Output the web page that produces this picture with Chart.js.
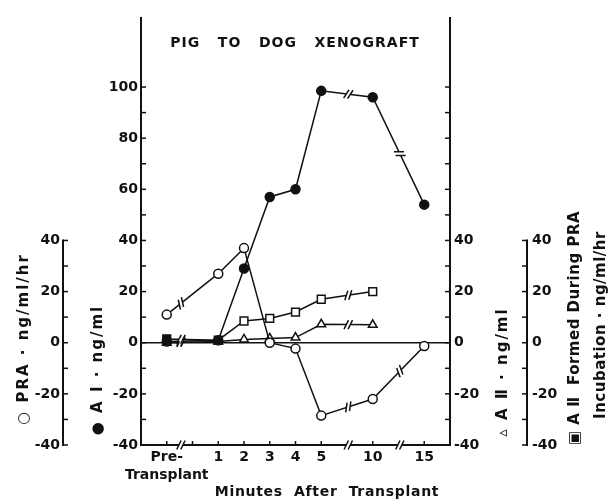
<!DOCTYPE html>
<html>
<head>
<meta charset="utf-8">
<script src="https://cdn.jsdelivr.net/npm/chart.js@4.4.1/dist/chart.umd.min.js"></script>
<style>
  html, body { margin: 0; padding: 0; background: #fff; }
  #wrap { width: 611px; height: 500px; }
</style>
</head>
<body>
<div id="wrap"><canvas id="chart" width="611" height="500"></canvas></div>
<script>
// minutes after transplant; the blank slots are the broken stretches of the axis
const categories = ['', ['Pre-', 'Transplant'], '', '1', '2', '3', '4', '5', '', '10', '', '15', ''];

const praValues      = [null, 11, null, 27, 37, 0, -2.3, -28.5, null, -22, null, -1.3, null];
const a1Values       = [null, 0.5, null, 1, 29, 57, 60, 98.5, null, 96, null, 54, null];
const a2Values       = [null, 0, null, 0.5, 1.3, 1.7, 2, 7.2, null, 7, null, null, null];
const a2FormedValues = [null, 1.5, null, 1, 8.5, 9.5, 12, 17, null, 20, null, null, null];

const mainTickLabels = [-40, -20, 0, 20, 40, 60, 80, 100];
const sideTickLabels = [-40, -20, 0, 20, 40];

const INK = '#111';
const tickFont = { family: 'DejaVu Sans', size: 14, weight: 'bold' };

function fixWidth(w) {
    return function (scale) { scale.width = w; };
}

function yScale(position, weight, width, labels, padding) {
    return {
        type: 'linear',
        position: position,
        weight: weight,
        min: -40,
        max: 127,
        afterFit: fixWidth(width),
        grid: { display: false, drawTicks: false },
        border: { display: false },
        ticks: {
            stepSize: 10,
            autoSkip: false,
            padding: padding,
            color: INK,
            font: tickFont,
            callback: v => labels.includes(v) ? String(v) : ''
        }
    };
}

// axis lines and inner tick marks, drawn from the scales
const axisSpecs = [
    { id: 'yPRA', side: 'right', dir: 1, from: -40, to: 40 },
    { id: 'y', side: 'right', dir: 1, from: -40, to: 100, full: true },
    { id: 'yA2', side: 'left', dir: -1, from: -40, to: 100, full: true },
    { id: 'yForm', side: 'left', dir: -1, from: -40, to: 40 }
];
const axisBreaks = [1.55, 8.05, 10.05];

function drawBreak(ctx, x, y, angle) {
    const ux = Math.cos(angle), uy = Math.sin(angle);
    const tilt = angle - Math.PI / 2 + 0.45;
    const mx = Math.cos(tilt) * 5, my = Math.sin(tilt) * 5;
    ctx.save();
    ctx.strokeStyle = '#fff';
    ctx.lineWidth = 4;
    ctx.beginPath();
    ctx.moveTo(x - ux * 2, y - uy * 2);
    ctx.lineTo(x + ux * 2, y + uy * 2);
    ctx.stroke();
    ctx.strokeStyle = INK;
    ctx.lineWidth = 1.5;
    [-2, 2].forEach(s => {
        const cx = x + ux * s, cy = y + uy * s;
        ctx.beginPath();
        ctx.moveTo(cx - mx, cy - my);
        ctx.lineTo(cx + mx, cy + my);
        ctx.stroke();
    });
    ctx.restore();
}

const paperAxes = {
    id: 'paperAxes',
    beforeDatasetsDraw(chart) {
        const ctx = chart.ctx;
        const area = chart.chartArea;
        ctx.save();
        ctx.strokeStyle = INK;
        ctx.lineCap = 'butt';
        axisSpecs.forEach(spec => {
            const s = chart.scales[spec.id];
            const x = spec.side === 'right' ? s.right : s.left;
            const top = spec.full ? area.top : s.getPixelForValue(spec.to);
            const bottom = s.getPixelForValue(spec.from);
            ctx.lineWidth = 2;
            ctx.beginPath();
            ctx.moveTo(x, top - 1);
            ctx.lineTo(x, bottom + 1);
            ctx.stroke();
            ctx.lineWidth = 1.5;
            for (let v = spec.from; v <= spec.to; v += 10) {
                const y = s.getPixelForValue(v);
                ctx.beginPath();
                ctx.moveTo(x, y);
                ctx.lineTo(x + spec.dir * 5, y);
                ctx.stroke();
            }
        });
        // x axis
        const xs = chart.scales.x;
        ctx.lineWidth = 2;
        ctx.beginPath();
        ctx.moveTo(area.left, area.bottom);
        ctx.lineTo(area.right, area.bottom);
        ctx.stroke();
        ctx.lineWidth = 1.5;
        categories.forEach((c, i) => {
            if (c === '' && i !== 2) return;
            const x = xs.getPixelForValue(i);
            ctx.beginPath();
            ctx.moveTo(x, area.bottom);
            ctx.lineTo(x, area.bottom - 4);
            ctx.stroke();
        });
        // zero line
        const y0 = chart.scales.y.getPixelForValue(0);
        ctx.lineWidth = 1.5;
        ctx.beginPath();
        ctx.moveTo(area.left, y0);
        ctx.lineTo(area.right, y0);
        ctx.stroke();
        ctx.restore();
        axisBreaks.forEach(b => drawBreak(ctx, xs.getPixelForValue(b), area.bottom, 0));
    },
    afterDatasetsDraw(chart) {
        const ctx = chart.ctx;
        const xs = chart.scales.x;
        chart.data.datasets.forEach(ds => {
            const ys = chart.scales[ds.yAxisID];
            const idx = ds.data.map((v, i) => v === null ? -1 : i).filter(i => i >= 0);
            for (let k = 1; k < idx.length; k++) {
                const i = idx[k - 1], j = idx[k];
                if (j - i < 2) continue;
                const x1 = xs.getPixelForValue(i), y1 = ys.getPixelForValue(ds.data[i]);
                const x2 = xs.getPixelForValue(j), y2 = ys.getPixelForValue(ds.data[j]);
                axisBreaks.filter(b => b > i && b < j).forEach(b => {
                    const x = xs.getPixelForValue(b);
                    const t = (x - x1) / (x2 - x1);
                    drawBreak(ctx, x, y1 + t * (y2 - y1), Math.atan2(y2 - y1, x2 - x1));
                });
            }
        });
    },
    afterDraw(chart) {
        const ctx = chart.ctx;
        ctx.save();
        ctx.fillStyle = INK;
        ctx.textAlign = 'center';
        ctx.textBaseline = 'middle';
        ctx.font = 'bold 14px "DejaVu Sans"';
        ctx.letterSpacing = '1px';
        ctx.fillText('PIG   TO   DOG   XENOGRAFT', 295, 43);
        ctx.letterSpacing = '0.7px';
        ctx.fillText('Minutes  After  Transplant', 327, 492);

        const vText = (text, x, y) => {
            ctx.save();
            ctx.translate(x, y);
            ctx.rotate(-Math.PI / 2);
            ctx.fillText(text, 0, 0);
            ctx.restore();
        };
        ctx.font = 'bold 15px "DejaVu Sans"';
        ctx.letterSpacing = '2px';
        vText('\u25CB PRA · ng/ml/hr', 24, 339);
        vText('\u25CF A \u2160 · ng/ml', 98, 370);
        vText('\u25B5 A \u2161 · ng/ml', 503, 372);
        ctx.letterSpacing = '0.5px';
        vText('\u25A3 A \u2161  Formed During PRA', 575, 328);
        vText('Incubation · ng/ml/hr', 601, 325);
        ctx.restore();
    }
};

const lineStyle = {
    borderColor: INK,
    borderWidth: 1.5,
    pointBorderColor: INK,
    pointBorderWidth: 1.5,
    spanGaps: true,
    tension: 0
};

new Chart(document.getElementById('chart'), {
    type: 'line',
    data: {
        labels: categories,
        datasets: [
            Object.assign({ label: 'PRA', data: praValues, yAxisID: 'yPRA', pointStyle: 'circle', pointRadius: 4.5, pointBackgroundColor: '#fff' }, lineStyle),
            Object.assign({ label: 'A I', data: a1Values, yAxisID: 'y', pointStyle: 'circle', pointRadius: 4.5, pointBackgroundColor: INK }, lineStyle),
            Object.assign({ label: 'A II', data: a2Values, yAxisID: 'yA2', pointStyle: 'triangle', pointRadius: 5, pointBackgroundColor: '#fff' }, lineStyle),
            Object.assign({ label: 'A II formed', data: a2FormedValues, yAxisID: 'yForm', pointStyle: 'rect', pointRadius: 5.5,
                pointBackgroundColor: c => c.dataIndex === 1 ? INK : '#fff' }, lineStyle)
        ]
    },
    options: {
        responsive: false,
        animation: false,
        layout: { padding: { top: 18, left: 0, right: 0, bottom: 0 } },
        plugins: { legend: { display: false }, tooltip: { enabled: false } },
        scales: {
            x: {
                type: 'category',
                offset: false,
                afterFit: s => { s.height = 55; },
                grid: { display: false, drawTicks: false },
                border: { display: false },
                ticks: { autoSkip: false, maxRotation: 0, padding: 3, color: INK, font: Object.assign({ lineHeight: 1.3 }, tickFont) }
            },
            yPRA: yScale('left', 1, 63, sideTickLabels, 3),
            y: yScale('left', 0, 78, mainTickLabels, 3),
            yA2: yScale('right', 0, 77, sideTickLabels, 4),
            yForm: yScale('right', 1, 84, sideTickLabels, 5)
        }
    },
    plugins: [paperAxes]
});
</script>
</body>
</html>
